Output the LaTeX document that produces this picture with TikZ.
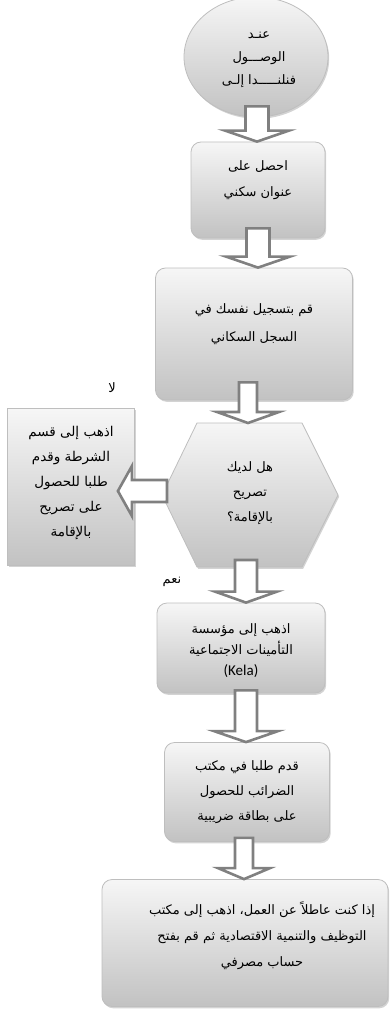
\documentclass[tikz,border=0pt]{standalone}
\usepackage{fontspec}
\newfontfamily\arabicfont[Script=Arabic]{DejaVu Sans}
\newfontfamily\kelafont{Carlito}
\TeXXeTstate=1
\usetikzlibrary{shadows,calc,shapes.geometric}
\definecolor{boxtop}{HTML}{F6F6F6}
\definecolor{boxbot}{HTML}{C2C2C2}
\definecolor{boxline}{HTML}{BEBEBE}
\definecolor{arrline}{HTML}{808080}
\newcommand\varrow[5]{% shaft half, head half, head length, start, tip (downwards)
  \draw[blockarr] let \p1=#4, \p2=#5 in
    (\x1-#1,\y1) -- (\x1-#1,\y2+#3) -- (\x1-#2,\y2+#3) -- (\x1,\y2)
    -- (\x1+#2,\y2+#3) -- (\x1+#1,\y2+#3) -- (\x1+#1,\y1) -- cycle;}
\newcommand\harrow[5]{% shaft half, head half, head length, start, tip (leftwards)
  \draw[blockarr] let \p1=#4, \p2=#5 in
    (\x1,\y1+#1) -- (\x2+#3,\y1+#1) -- (\x2+#3,\y1+#2) -- (\x2,\y1)
    -- (\x2+#3,\y1-#2) -- (\x2+#3,\y1-#1) -- (\x1,\y1-#1) -- cycle;}
\tikzset{
  shapebase/.style={draw=boxline, line width=0.8pt, top color=boxtop, bottom color=boxbot,
    drop shadow={shadow xshift=1.2pt, shadow yshift=-1.8pt, opacity=0.35}},
  roundbox/.style={shapebase, rectangle, rounded corners=10pt, inner sep=0pt},
  squarebox/.style={shapebase, rectangle, inner sep=0pt},
  ovalbox/.style={shapebase, ellipse, inner sep=0pt},
  txt/.style={font=\arabicfont\fontsize{13}{25}\selectfont, align=center, inner sep=0pt},
  blockarr/.style={draw=arrline, fill=white, line width=2.6pt, line join=miter},
  lbl/.style={font=\arabicfont\fontsize{13}{14}\selectfont, inner sep=0pt}
}
\begin{document}
\begin{tikzpicture}[x=1pt,y=-1pt]
\useasboundingbox (0,0) rectangle (391,1011);
% shapes
\node[ovalbox, minimum width=144pt, minimum height=120pt] (e) at (256,57) {};
\node[roundbox, minimum width=134pt, minimum height=96pt] (b1) at (258,190) {};
\node[roundbox, minimum width=197pt, minimum height=132pt] (b2) at (254,334) {};
\path[shapebase] (162,495) -- (197,423) -- (302,423) -- (338,495) -- (302,567) -- (197,567) -- cycle;
\coordinate (hexw) at (162,495);
\coordinate (hexn) at (250,423);
\coordinate (hexs) at (250,567);
\node[squarebox, minimum width=127pt, minimum height=157pt] (lb) at (71,487) {};
\node[roundbox, minimum width=168pt, minimum height=90pt] (k) at (241,648) {};
\node[roundbox, minimum width=165pt, minimum height=99pt] (t) at (247,792) {};
\node[roundbox, minimum width=286pt, minimum height=127pt] (f) at (245,943) {};
% arrow start points
\coordinate (a1) at ($(e.south)+(1,-11)$);
\coordinate (a2) at ($(b1.south)+(0,-10)$);
\coordinate (a3) at ($(b2.south)+(-6,-18)$);
\coordinate (a4) at ($(hexs)+(-4,-7)$);
\coordinate (a5) at ($(k.south)+(5,-3)$);
\coordinate (a6) at ($(t.south)+(-3,-4)$);
\coordinate (a7) at ($(hexw)+(5,-4)$);
\coordinate (a7tip) at ($(lb.east)+(-17,0)$);
% block arrows
\varrow{11.5pt}{32pt}{11pt}{(a1)}{(a1|-b1.north)}
\varrow{11.5pt}{32pt}{11pt}{(a2)}{(a2|-b2.north)}
\varrow{9pt}{31pt}{11pt}{(a3)}{(a3|-hexn)}
\varrow{11pt}{31pt}{11pt}{(a4)}{(a4|-k.north)}
\varrow{11pt}{32pt}{11pt}{(a5)}{(a5|-t.north)}
\varrow{9pt}{26pt}{11pt}{(a6)}{(a6|-f.north)}
\harrow{11pt}{25pt}{14pt}{(a7)}{(a7tip)}
% texts
\node[txt, font=\arabicfont\fontsize{13}{23}\selectfont] (et) at (259,60)
  {\beginR عنـد\endR\\ \beginR الوصـــول\endR\\ \beginR فنلنـــــدا إلـى\endR};
\node[txt, font=\arabicfont\fontsize{13}{26}\selectfont] (b1t) at (258,180)
  {\beginR احصل على\endR\\ \beginR عنوان سكني\endR};
\node[txt, font=\arabicfont\fontsize{13}{28}\selectfont] (b2t) at (254,324)
  {\beginR قم بتسجيل نفسك في\endR\\ \beginR السجل السكاني\endR};
\node[txt] (ht) at (250,493)
  {\beginR هل لديك\endR\\ \beginR تصريح\endR\\ \beginR بالإقامة؟\endR};
\node[txt, font=\arabicfont\fontsize{13.5}{25}\selectfont] (lbt) at (71,483)
  {\beginR اذهب إلى قسم\endR\\ \beginR الشرطة وقدم\endR\\ \beginR طلبا للحصول\endR\\ \beginR على تصريح\endR\\ \beginR بالإقامة\endR};
\node[txt, font=\arabicfont\fontsize{13}{21}\selectfont] (kt) at (241,651)
  {\beginR اذهب إلى مؤسسة\endR\\ \beginR التأمينات الاجتماعية\endR\\ {\kelafont\fontsize{15}{21}\selectfont (Kela)}};
\node[txt] (tt) at (247,792)
  {\beginR قدم طلبا في مكتب\endR\\ \beginR الضرائب للحصول\endR\\ \beginR على بطاقة ضريبية\endR};
\node[txt, font=\arabicfont\fontsize{13}{26}\selectfont] (ft) at (262,936)
  {\beginR إذا كنت عاطلاً عن العمل، اذهب إلى مكتب\endR\\ \beginR التوظيف والتنمية الاقتصادية ثم قم بفتح\endR\\ \beginR حساب مصرفي\endR};
\node[lbl] (no) at (112,388) {\beginR لا\endR};
\node[lbl] (yes) at (172,582) {\beginR نعم\endR};
\end{tikzpicture}
\end{document}
